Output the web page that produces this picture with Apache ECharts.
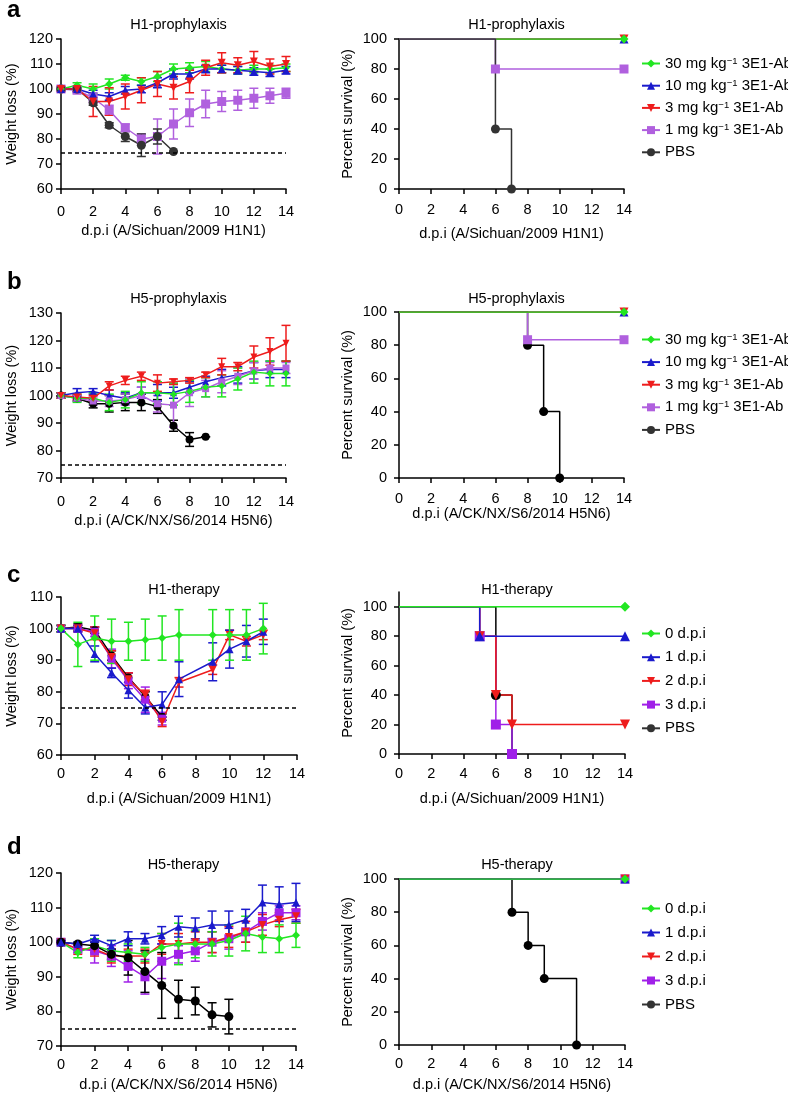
<!DOCTYPE html>
<html><head><meta charset="utf-8">
<script src="https://cdn.jsdelivr.net/npm/echarts@6/dist/echarts.min.js"></script>
<style>html,body{margin:0;padding:0;background:#fff}#c{width:788px;height:1098px}</style>
</head><body><div id="c"></div>
<script>
// ---------- DATA ----------
const DAYS = [0,1,2,3,4,5,6,7,8,9,10,11,12,13,14];
const SURV_TICKS = [0,20,40,60,80,100];
const THRESH_A = 74.5, THRESH = 75;

// a: H1 prophylaxis weight
const A_G = [100,101.5,100,102,104.5,103,105,108,108.5,109,108,107.5,108,108,108.5];
const A_G_E = [0.5,1,2,2,1,1.5,2,2,2,2,1.5,1.5,1.5,1.5,1.5];
const A_B = [100,100,98,97,99.5,100,102.5,106,106,108,108,107.5,107,106.5,107.5];
const A_B_E = [1,1,1.5,1.5,1.5,1.5,2,2,2,1.5,1.5,1.5,1.5,1.5,1.5];
const A_R = [100,100,95,95,97,99.5,102,100.5,103,108.5,110.5,109.5,111,109,110];
const A_R_E = [1,1,6,5.5,5,5,5,4.5,4.5,3,4,3,4,3,3];
const A_P = [100,99.5,96.5,91.5,84.5,80,81,86,90.5,94,95,95.5,96.3,97.3,98.3];
const A_P_E = [0.5,1,2,2,1.5,2,7,6,5.5,5.5,4,4,4,3,2];
const A_K = [100,100,94.5,85.5,81,77.5,81,75];
const A_K_E = [0.5,1,1,1,2,4.5,3,0];

// b: H5 prophylaxis weight
const B_G = [100,99,99,97.5,98.5,101,101,100.5,101.5,103,103.5,106,108.5,108,108];
const B_G_E = [1,1.5,2,3,3,4,4,4,4,3.5,4,4,4,4.5,4.5];
const B_B = [100,101,101.5,100,99,101,101,101,103,105,106.5,107.5,109,109.5,109.5];
const B_B_E = [1,1.5,1,2,2,2,3,2,2,2,3,3,3,3,3];
const B_R = [100,99.5,99,103.5,105.5,107,104.5,105,105.5,107.5,110.5,110.5,114,116,119];
const B_R_E = [1,1,1,1.5,1.5,1.5,3,1,1,1,3,1.5,4,5,6.5];
const B_P = [100,99,98,98,98.5,100,97,96.5,101,102.5,105,107,109,110,110];
const B_P_E = [1,1,1.5,2,2,3,3,8,5,3,4,3,3,2,2];
const B_K = [100,99,97,97,97.5,97.5,96,89,84,85];
const B_K_E = [1,1,1.5,3,3,3,2.5,2,2.5,0];

// c: H1 therapy weight
const C_DAYS = [0,1,2,3,4,5,6,7,9,10,11,12];
const C_G = [100,95,97,96,96,96.5,97,98,98,98,98,100];
const C_G_E = [1,7,7,7,6,6.5,7,8,8,8,8,8];
const C_B = [100,100,92,86,80.5,75,76,84,89.5,93.5,96,99];
const C_B_E = [1,1,2.5,1.5,2.5,2,4,5.5,6,6,5,4];
const C_R = [100,100,98.5,91,84,79,70.5,83,87,98,96,98];
const C_R_E = [1,1,2,2,2,1.5,1.5,1.5,1.5,1.5,1.5,1.5];
const C_P = [100,100,99,90.5,83.5,77.5,71.5];
const C_P_E = [1,1,1.5,3,2.5,4,2];
const C_K = [100,100.5,99.5,91.5,84.5,78.5,72];
const C_K_E = [1,1,1,1.5,1.5,1.5,1];

// d: H5 therapy weight
const D_G = [100,97,99,97.5,97,96.5,98.5,99.5,99.5,99.5,100.5,102.5,101.5,101,102];
const D_G_E = [1,1.5,2,3,2.5,2,4,6,4,3.5,4.5,5,4.5,4,3.5];
const D_B = [100,99.5,101,99,101,101,102,104.5,104,105,105,106.5,111.5,111,111.5];
const D_B_E = [0.5,0.5,1,1.5,2,1.5,2.5,3,3,4,4,3,5,5,5.5];
const D_R = [100,98,98,96,96,96,99.5,99.5,100,100,101.5,103,105,106.5,107.5];
const D_R_E = [0.5,1.5,2,2,2,2,3,3,3,3,3,3,3,2,2];
const D_P = [100,98,97.5,96,93,90,94.5,96.5,97.5,100,101,103,106,108.5,108.5];
const D_P_E = [0.5,1,3.5,3,4.5,5,5,2.5,3,3,3,3,2.5,2,2];
const D_K = [100,99.5,99,96.5,95.5,91.5,87.5,83.5,83,79,78.5];
const D_K_E = [0.5,0.5,1,1.5,5,6,9.5,5.5,4,3.5,5];

// survival (time, percent)
const SA_ALL_T = [0,14], SA_ALL_S = [100,100];
const SA_P_T = [0,6,14], SA_P_S = [100,80,80];
const SA_K_T = [0,6,7], SA_K_S = [100,40,0];
const SB_P_T = [0,8,14], SB_P_S = [100,83.3,83.3];
const SB_K_T = [0,8,9,10], SB_K_S = [100,80,40,0];
const SC_B_T = [0,5,14], SC_B_S = [100,80,80];
const SC_R_T = [0,5,6,7,14], SC_R_S = [100,80,40,20,20];
const SC_P_T = [0,5,6,7], SC_P_S = [100,80,20,0];
const SC_K_T = [0,6,7], SC_K_S = [100,40,0];
const SD_K_T = [0,7,8,9,11], SD_K_S = [100,80,60,40,0];

const NAMES_AB = ['30 mg kg\u22121 3E1-Ab','10 mg kg\u22121 3E1-Ab','3 mg kg\u22121 3E1-Ab','1 mg kg\u22121 3E1-Ab','PBS'];
const NAMES_CD = ['0 d.p.i','1 d.p.i','2 d.p.i','3 d.p.i','PBS'];
const TITLES = ['H1-prophylaxis','H5-prophylaxis','H1-therapy','H5-therapy'];
const XNAMES = ['d.p.i (A/Sichuan/2009 H1N1)','d.p.i (A/CK/NX/S6/2014 H5N6)','d.p.i (A/Sichuan/2009 H1N1)','d.p.i (A/CK/NX/S6/2014 H5N6)'];
const LETTERS = ['a','b','c','d'];

// ---------- STYLE ----------
const FONT = "'Liberation Sans', Arial, Helvetica, sans-serif";
const FS = 14.5;
const GREEN='#22e622', BLUE='#1a1acc', RED='#ee1c1c', PURPLE_AB='#b060de', PURPLE_CD='#a020e8', GREY='#333333', BLACK='#000000';
const DIAMOND='diamond', TRI='triangle', INVTRI='path://M0,0L10,0L5,9Z', SQ='rect', CIRC='circle';

const grids = [
  {left:61, top:39, width:225, height:150},   // 0 a-left
  {left:399, top:39, width:225, height:150},  // 1 a-right
  {left:61, top:313, width:225, height:165},  // 2 b-left
  {left:399, top:312, width:225, height:166}, // 3 b-right
  {left:61, top:597, width:236, height:158},  // 4 c-left
  {left:399, top:592, width:226, height:162}, // 5 c-right
  {left:61, top:873, width:235, height:173},  // 6 d-left
  {left:399, top:879, width:226, height:166}  // 7 d-right
].map(g => Object.assign({outerBoundsMode:'none', containLabel:false}, g));

const axLine = {show:true, onZero:false, lineStyle:{color:'#000', width:1.5}};
const axTick = {show:true, length:5, inside:false, lineStyle:{color:'#000', width:1.5}};
function xAx(gi, name, gap, margin){
  return {type:'value', gridIndex:gi, min:0, max:14, interval:2, name, nameLocation:'middle', nameGap:gap,
    nameTextStyle:{fontSize:FS, color:'#000', fontFamily:FONT},
    axisLine:axLine, axisTick:axTick, splitLine:{show:false},
    axisLabel:{fontSize:FS, color:'#000', margin, fontFamily:FONT}};
}
function yAx(gi, min, max, interval, name, gap, margin, custom){
  const a = {type:'value', gridIndex:gi, min, max, interval, name, nameLocation:'middle', nameGap:gap, nameRotate:90,
    nameTextStyle:{fontSize:FS, color:'#000', fontFamily:FONT},
    axisLine:axLine, axisTick:Object.assign({}, axTick), splitLine:{show:false},
    axisLabel:{fontSize:FS, color:'#000', margin, fontFamily:FONT}};
  if (custom) { a.axisTick.customValues = custom; a.axisLabel.customValues = custom; }
  return a;
}

function errRender(color){
  return function(params, api){
    const x = api.value(0), y = api.value(1), e = api.value(2);
    const t = api.coord([x, y + e]), b = api.coord([x, y - e]);
    const w = 4.5;
    const st = {stroke:color, lineWidth:1.5};
    return {type:'group', children:[
      {type:'line', shape:{x1:t[0], y1:t[1], x2:b[0], y2:b[1]}, style:st},
      {type:'line', shape:{x1:t[0]-w, y1:t[1], x2:t[0]+w, y2:t[1]}, style:st},
      {type:'line', shape:{x1:b[0]-w, y1:b[1], x2:b[0]+w, y2:b[1]}, style:st}
    ]};
  };
}
function wSeries(gi, name, color, symbol, xs, ys, es, size, thresh){
  const s = [
    {type:'custom', name:name+' (SD)', xAxisIndex:gi, yAxisIndex:gi, silent:true,
     data: ys.map((v,i)=>[xs[i], v, es[i]]), renderItem: errRender(color), encode:{x:0, y:1}},
    {type:'line', name, xAxisIndex:gi, yAxisIndex:gi, data: ys.map((v,i)=>[xs[i], v]),
     symbol, symbolSize:size, showAllSymbol:true, itemStyle:{color, opacity:1}, lineStyle:{color, width:1.5}}
  ];
  if (thresh !== undefined) {
    s[1].markLine = {silent:true, symbol:'none', label:{show:false},
      lineStyle:{color:'#000', width:1.5, type:[4,3]}, data:[{yAxis:thresh}]};
  }
  return s;
}
function sSeries(gi, name, color, symbol, ts, ss, size){
  return {type:'line', name, xAxisIndex:gi, yAxisIndex:gi, step:'end',
    data: ts.map((t,i)=> i===0 ? {value:[t, ss[i]], symbol:'none'} : [t, ss[i]]),
    symbol, symbolSize:size, showAllSymbol:true, itemStyle:{color, opacity:1}, lineStyle:{color, width:1.5}};
}

const series = [].concat(
  // a-left
  wSeries(0, NAMES_AB[3], PURPLE_AB, SQ, DAYS, A_P, A_P_E, 9),
  wSeries(0, NAMES_AB[4], GREY, CIRC, DAYS, A_K, A_K_E, 9, THRESH_A),
  wSeries(0, NAMES_AB[0], GREEN, DIAMOND, DAYS, A_G, A_G_E, 8),
  wSeries(0, NAMES_AB[1], BLUE, TRI, DAYS, A_B, A_B_E, 8),
  wSeries(0, NAMES_AB[2], RED, INVTRI, DAYS, A_R, A_R_E, 8),
  // a-right
  [sSeries(1, NAMES_AB[1], BLUE, TRI, SA_ALL_T, SA_ALL_S, 9),
   sSeries(1, NAMES_AB[2], RED, INVTRI, SA_ALL_T, SA_ALL_S, 9),
   sSeries(1, NAMES_AB[0], GREEN, DIAMOND, SA_ALL_T, SA_ALL_S, 9),
   sSeries(1, NAMES_AB[3], PURPLE_AB, SQ, SA_P_T, SA_P_S, 9),
   sSeries(1, NAMES_AB[4], GREY, CIRC, SA_K_T, SA_K_S, 9)],
  // b-left
  wSeries(2, NAMES_AB[4], BLACK, CIRC, DAYS, B_K, B_K_E, 8, THRESH),
  wSeries(2, NAMES_AB[1], BLUE, TRI, DAYS, B_B, B_B_E, 7),
  wSeries(2, NAMES_AB[3], PURPLE_AB, SQ, DAYS, B_P, B_P_E, 7),
  wSeries(2, NAMES_AB[0], GREEN, DIAMOND, DAYS, B_G, B_G_E, 7),
  wSeries(2, NAMES_AB[2], RED, INVTRI, DAYS, B_R, B_R_E, 7),
  // b-right
  [sSeries(3, NAMES_AB[4], BLACK, CIRC, SB_K_T, SB_K_S, 9),
   sSeries(3, NAMES_AB[3], PURPLE_AB, SQ, SB_P_T, SB_P_S, 9),
   sSeries(3, NAMES_AB[1], BLUE, TRI, SA_ALL_T, SA_ALL_S, 9),
   sSeries(3, NAMES_AB[2], RED, INVTRI, SA_ALL_T, SA_ALL_S, 9),
   sSeries(3, NAMES_AB[0], GREEN, DIAMOND, SA_ALL_T, SA_ALL_S, 9)],
  // c-left
  wSeries(4, NAMES_CD[4], BLACK, CIRC, C_DAYS, C_K, C_K_E, 8, THRESH),
  wSeries(4, NAMES_CD[3], PURPLE_CD, SQ, C_DAYS, C_P, C_P_E, 8),
  wSeries(4, NAMES_CD[2], RED, INVTRI, C_DAYS, C_R, C_R_E, 8),
  wSeries(4, NAMES_CD[1], BLUE, TRI, C_DAYS, C_B, C_B_E, 8),
  wSeries(4, NAMES_CD[0], GREEN, DIAMOND, C_DAYS, C_G, C_G_E, 8),
  // c-right
  [sSeries(5, NAMES_CD[4], BLACK, CIRC, SC_K_T, SC_K_S, 10),
   sSeries(5, NAMES_CD[3], PURPLE_CD, SQ, SC_P_T, SC_P_S, 10),
   sSeries(5, NAMES_CD[2], RED, INVTRI, SC_R_T, SC_R_S, 10),
   sSeries(5, NAMES_CD[1], BLUE, TRI, SC_B_T, SC_B_S, 10),
   sSeries(5, NAMES_CD[0], GREEN, DIAMOND, SA_ALL_T, SA_ALL_S, 10)],
  // d-left
  wSeries(6, NAMES_CD[3], PURPLE_CD, SQ, DAYS, D_P, D_P_E, 9),
  wSeries(6, NAMES_CD[2], RED, INVTRI, DAYS, D_R, D_R_E, 8),
  wSeries(6, NAMES_CD[0], GREEN, DIAMOND, DAYS, D_G, D_G_E, 8),
  wSeries(6, NAMES_CD[4], BLACK, CIRC, DAYS, D_K, D_K_E, 9, THRESH),
  wSeries(6, NAMES_CD[1], BLUE, TRI, DAYS, D_B, D_B_E, 8),
  // d-right
  [sSeries(7, NAMES_CD[4], BLACK, CIRC, SD_K_T, SD_K_S, 9),
   sSeries(7, NAMES_CD[3], PURPLE_CD, SQ, SA_ALL_T, SA_ALL_S, 9),
   sSeries(7, NAMES_CD[2], RED, INVTRI, SA_ALL_T, SA_ALL_S, 9),
   sSeries(7, NAMES_CD[1], BLUE, TRI, SA_ALL_T, SA_ALL_S, 9),
   sSeries(7, NAMES_CD[0], GREEN, DIAMOND, SA_ALL_T, SA_ALL_S, 9)]
);

const xAxis = [
  xAx(0, XNAMES[0], 34, 15), xAx(1, XNAMES[0], 37, 13),
  xAx(2, XNAMES[1], 35, 16), xAx(3, XNAMES[1], 28, 13),
  xAx(4, XNAMES[2], 36, 11), xAx(5, XNAMES[2], 37, 12),
  xAx(6, XNAMES[3], 31, 11), xAx(7, XNAMES[3], 32, 11)
];
const yAxis = [
  yAx(0, 60, 120, 10, 'Weight loss (%)', 42, 8),
  yAx(1, 0, 100, 20, 'Percent survival (%)', 44, 12),
  yAx(2, 70, 130, 10, 'Weight loss (%)', 42, 8),
  yAx(3, 0, 100, 20, 'Percent survival (%)', 44, 12),
  yAx(4, 60, 110, 10, 'Weight loss (%)', 42, 8),
  yAx(5, 0, 110, null, 'Percent survival (%)', 44, 12, SURV_TICKS),
  yAx(6, 70, 120, 10, 'Weight loss (%)', 42, 8),
  yAx(7, 0, 100, 20, 'Percent survival (%)', 44, 12)
];

const titles = [];
const titleTops = [12, 286, 577, 852];
const letterTops = [-7, 265, 558, 830];
for (let r = 0; r < 4; r++) {
  const gl = grids[2*r], gr = grids[2*r+1];
  titles.push({text:TITLES[r], left:gl.left + gl.width/2, top:titleTops[r], textAlign:'center',
    textStyle:{fontSize:FS, fontWeight:'normal', color:'#000', fontFamily:FONT}});
  titles.push({text:TITLES[r], left:gr.left + gr.width/2, top:titleTops[r], textAlign:'center',
    textStyle:{fontSize:FS, fontWeight:'normal', color:'#000', fontFamily:FONT}});
  titles.push({text:LETTERS[r], left:2, top:letterTops[r],
    textStyle:{fontSize:24, fontWeight:'bold', color:'#000', fontFamily:FONT}});
}

function legendAt(top, names, gap){
  return {top, left:641, padding:0, orient:'vertical', itemWidth:18, itemHeight:10, itemGap:gap, data:names,
    selectedMode:false,
    formatter: n => n.replace('kg\u22121', 'kg{s|\u22121}'),
    textStyle:{fontSize:15, color:'#000', fontFamily:FONT,
      rich:{s:{fontSize:9.5, verticalAlign:'top', color:'#000', fontFamily:FONT}}}};
}
const legend = [legendAt(56, NAMES_AB, 7.2), legendAt(332, NAMES_AB, 7.6), legendAt(626, NAMES_CD, 8.7), legendAt(901, NAMES_CD, 9)];

const chart = echarts.init(document.getElementById('c'), null, {renderer:'canvas'});
chart.setOption({animation:false, backgroundColor:'#fff', textStyle:{fontFamily:FONT},
  title:titles, grid:grids, xAxis, yAxis, legend, series});
</script></body></html>
